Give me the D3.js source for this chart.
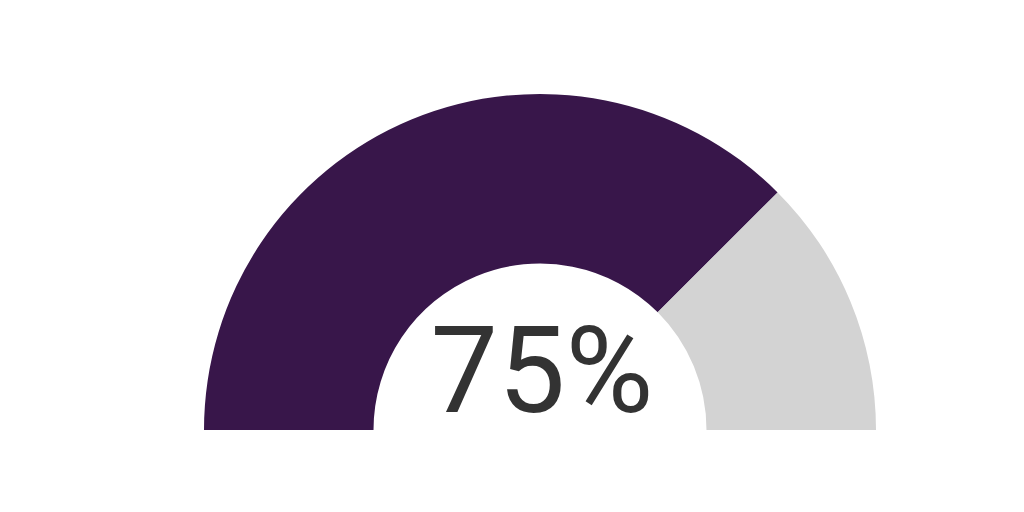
<!DOCTYPE html>
<html>
<head>
<meta charset="utf-8">
<script src="https://cdn.jsdelivr.net/npm/d3@7"></script>
<style>
html,body{margin:0;padding:0;background:#fff;}
svg{display:block;}
</style>
</head>
<body>
<svg id="chart" width="1024" height="512"></svg>
<script>
const categories = ["value", "remaining"];
const values = [75, 25];
const colors = ["#38164a", "#d3d3d3"];
const labelText = "75%";

const svg = d3.select("#chart");
const cx = 540, cy = 430, outerR = 336, innerR = 166.5;

const pie = d3.pie().sort(null).startAngle(-Math.PI / 2).endAngle(Math.PI / 2);
const arc = d3.arc().innerRadius(innerR).outerRadius(outerR);

const g = svg.append("g").attr("transform", `translate(${cx},${cy})`);
g.selectAll("path")
  .data(pie(values))
  .join("path")
  .attr("d", arc)
  .attr("fill", (d, i) => colors[i]);

g.append("text")
  .attr("x", 2)
  .attr("y", -18)
  .attr("text-anchor", "middle")
  .attr("font-family", "Roboto, sans-serif")
  .attr("font-size", 120)
  .attr("fill", "#333333")
  .text(labelText);
</script>
</body>
</html>
